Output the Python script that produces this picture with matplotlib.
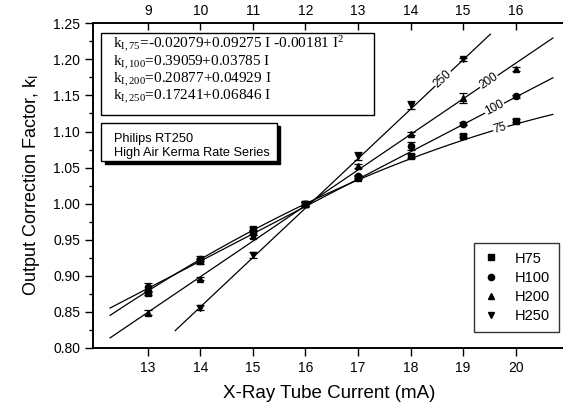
import numpy as np
import matplotlib
matplotlib.use("Agg")
import matplotlib.pyplot as plt
from matplotlib.patches import Rectangle
from matplotlib.lines import Line2D

plt.rcParams["font.family"] = ["Liberation Sans", "DejaVu Sans"]
plt.rcParams["mathtext.fontset"] = "custom"
plt.rcParams["mathtext.rm"] = "Liberation Serif"
plt.rcParams["mathtext.it"] = "Liberation Serif:italic"
plt.rcParams["mathtext.sf"] = "Liberation Sans"

# bottom axis: tube current (mA) for H75, H100, H200
current = [13, 14, 15, 16, 17, 18, 19, 20]
h75 = [0.876, 0.920, 0.965, 1.000, 1.036, 1.066, 1.094, 1.115]
h75_err = [0.003, 0.003, 0.003, 0.003, 0.002, 0.003, 0.002, 0.002]
h100 = [0.884, 0.924, 0.960, 1.000, 1.038, 1.080, 1.111, 1.149]
h100_err = [0.006, 0.003, 0.003, 0.003, 0.002, 0.005, 0.002, 0.002]
h200 = [0.849, 0.896, 0.955, 1.000, 1.052, 1.097, 1.147, 1.187]
h200_err = [0.003, 0.002, 0.002, 0.003, 0.003, 0.002, 0.007, 0.003]

# top axis: tube current (mA) for H250
current_250 = [10, 11, 12, 13, 14, 15]
h250 = [0.856, 0.929, 1.000, 1.066, 1.137, 1.200]
h250_err = [0.003, 0.004, 0.004, 0.006, 0.006, 0.002]

# fit coefficients (c0, c1, c2)
fit75 = [-0.02079, 0.09275, -0.00181]
fit100 = [0.39059, 0.03785, 0.0]
fit200 = [0.20877, 0.04929, 0.0]
fit250 = [0.17241, 0.06846, 0.0]

eq_lines = [
    r"k$_{\mathrm{I,75}}$=-0.02079+0.09275 I -0.00181 I$^{2}$",
    r"k$_{\mathrm{I,100}}$=0.39059+0.03785 I",
    r"k$_{\mathrm{I,200}}$=0.20877+0.04929 I",
    r"k$_{\mathrm{I,250}}$=0.17241+0.06846 I",
]


def fit(c, x):
    return c[0] + c[1] * x + c[2] * x ** 2


fig = plt.figure(figsize=(5.63, 4.07), dpi=100)
ax = fig.add_axes([93.3 / 563, 1 - 348 / 407, (566 - 93.3) / 563, (348 - 23.3) / 407])
xmin, xmax = 11.96, 20.96
ax.set_xlim(xmin, xmax)
ax.set_ylim(0.80, 1.25)

ax2 = ax.twiny()
ax2.set_xlim(xmin - 4, xmax - 4)

ms = 4.5
ek = dict(color="black", ecolor="black", elinewidth=0.9, capsize=3, capthick=0.9,
          linestyle="none", markersize=ms)
ax.errorbar(current, h75, yerr=h75_err, marker="s", **ek)
ax.errorbar(current, h100, yerr=h100_err, marker="o", **ek)
ax.errorbar(current, h200, yerr=h200_err, marker="^", **ek)
ax2.errorbar(current_250, h250, yerr=h250_err, marker="v", **ek)

xf = np.linspace(12.28, 20.71, 100)
ax.plot(xf, fit(fit75, xf), color="black", lw=0.9)
ax.plot(xf, fit(fit100, xf), color="black", lw=0.9)
ax.plot(xf, fit(fit200, xf), color="black", lw=0.9)
xf2 = np.linspace(9.52, 15.52, 100)
ax2.plot(xf2, fit(fit250, xf2), color="black", lw=0.9)

# line labels
lab = dict(fontsize=8.5, ha="center", va="center", rotation_mode="anchor",
           bbox=dict(facecolor="white", edgecolor="none", pad=0.5))
ax2.text(14.62, fit(fit250, 14.62), "250", rotation=43, **lab)
ax.text(19.49, fit(fit200, 19.49), "200", rotation=34, **lab)
ax.text(19.60, fit(fit100, 19.60), "100", rotation=27.5, **lab)
ax.text(19.71, fit(fit75, 19.71), "75", rotation=16, **lab)

# ticks
ax.set_xticks(current)
ax.set_yticks(np.arange(0.80, 1.2501, 0.05))
ax.set_yticks(np.arange(0.80, 1.2501, 0.025), minor=True)
ax.yaxis.set_major_formatter(matplotlib.ticker.FormatStrFormatter("%.2f"))
ax.tick_params(axis="x", direction="out", length=6, width=1, labelsize=10, top=False)
ax.tick_params(axis="y", which="major", direction="out", length=6, width=1, labelsize=10)
ax.tick_params(axis="y", which="minor", direction="out", length=3, width=1)
ax2.set_xticks([9, 10, 11, 12, 13, 14, 15, 16])
ax2.tick_params(axis="x", direction="in", length=5, width=1, labelsize=10, pad=4)
for a in (ax, ax2):
    for s in a.spines.values():
        s.set_linewidth(1.2)

ax.set_xlabel("X-Ray Tube Current (mA)", fontsize=13.5, labelpad=7)
ax.set_ylabel(r"Output Correction Factor, k$_{\mathsf{I}}$", fontsize=13, labelpad=8)

# equation box
ax.add_patch(Rectangle((0.0165, 0.7176), 0.5765, 0.2524, transform=ax.transAxes,
                       facecolor="white", edgecolor="black", lw=1, zorder=5))
for i, t in enumerate(eq_lines):
    ax.text(0.0407, 0.933 - i * 0.0537, t, transform=ax.transAxes, fontsize=11,
            family="Liberation Serif", va="center", ha="left", zorder=6)

# Philips box with shadow
ax.add_patch(Rectangle((0.024, 0.567), 0.372, 0.117, transform=ax.transAxes,
                       facecolor="black", edgecolor="black", lw=1, zorder=5))
ax.add_patch(Rectangle((0.0165, 0.576), 0.3725, 0.117, transform=ax.transAxes,
                       facecolor="white", edgecolor="black", lw=1, zorder=6))
ax.text(0.044, 0.643, "Philips RT250", transform=ax.transAxes, fontsize=9.2,
        va="center", ha="left", zorder=7)
ax.text(0.044, 0.602, "High Air Kerma Rate Series", transform=ax.transAxes, fontsize=9.2,
        va="center", ha="left", zorder=7)

handles = [Line2D([], [], marker=m, color="black", linestyle="none", markersize=ms)
           for m in ["s", "o", "^", "v"]]
leg = ax.legend(handles, ["H75", "H100", "H200", "H250"], loc="lower right",
                bbox_to_anchor=(1.0, 0.028), fontsize=10.5, frameon=True, fancybox=False,
                edgecolor="black", handlelength=1.2, handletextpad=1.0,
                labelspacing=0.35, borderpad=0.6)
leg.get_frame().set_linewidth(1)
leg.set_zorder(8)

fig.savefig("out.png", dpi=100)
